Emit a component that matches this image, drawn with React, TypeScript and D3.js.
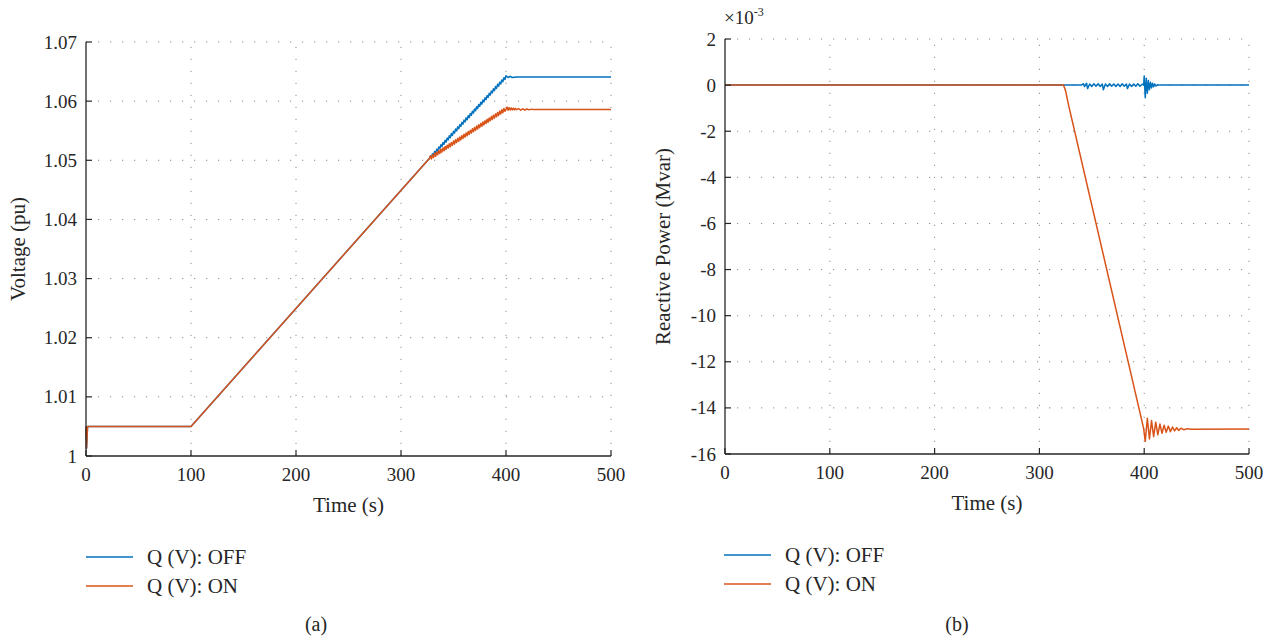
import React from 'react';
import * as d3 from 'd3';

// ---------- data ----------
const TIME_TICKS = [0, 100, 200, 300, 400, 500];
const V_TICKS = [1, 1.01, 1.02, 1.03, 1.04, 1.05, 1.06, 1.07];
const V_TICK_LABELS = ['1', '1.01', '1.02', '1.03', '1.04', '1.05', '1.06', '1.07'];
const Q_TICKS = [-16, -14, -12, -10, -8, -6, -4, -2, 0, 2];
const Q_TICK_LABELS = ['-16', '-14', '-12', '-10', '-8', '-6', '-4', '-2', '0', '2'];
const SERIES_NAMES = ['Q (V): OFF', 'Q (V): ON'];

// Voltage (pu), Q(V) OFF : times and values
const V_OFF_T = [0, 0.5, 1.5, 100, 327,
  328, 329, 330, 331, 332, 333, 334, 335, 336, 337, 338, 339, 340, 341, 342, 343, 344, 345, 346, 347,
  348, 349, 350, 351, 352, 353, 354, 355, 356, 357, 358, 359, 360, 361, 362, 363, 364, 365, 366, 367,
  368, 369, 370, 371, 372, 373, 374, 375, 376, 377, 378, 379, 380, 381, 382, 383, 384, 385, 386, 387,
  388, 389, 390, 391, 392, 393, 394, 395, 396, 397, 398, 399,
  400, 402, 404, 406, 410, 500];
const V_OFF = [1.005, 1.0013, 1.005, 1.005, 1.0503,
  1.05074, 1.05043, 1.05112, 1.05081, 1.05150, 1.05118, 1.05187, 1.05156, 1.05225, 1.05194, 1.05263, 1.05232, 1.05301, 1.05270, 1.05339, 1.05307, 1.05376, 1.05345, 1.05414, 1.05383,
  1.05452, 1.05421, 1.05490, 1.05459, 1.05528, 1.05496, 1.05565, 1.05534, 1.05603, 1.05572, 1.05641, 1.05610, 1.05679, 1.05648, 1.05717, 1.05685, 1.05754, 1.05723, 1.05792, 1.05761,
  1.05830, 1.05799, 1.05868, 1.05837, 1.05906, 1.05874, 1.05943, 1.05912, 1.05981, 1.05950, 1.06019, 1.05988, 1.06057, 1.06026, 1.06095, 1.06063, 1.06132, 1.06101, 1.06170, 1.06139,
  1.06208, 1.06177, 1.06246, 1.06215, 1.06284, 1.06252, 1.06321, 1.06290, 1.06359, 1.06328, 1.06397, 1.06366,
  1.0643, 1.0640, 1.0642, 1.0640, 1.0641, 1.0641];

// Voltage (pu), Q(V) ON
const V_ON_T = [0, 0.5, 1.5, 100, 327,
  328, 329, 330, 331, 332, 333, 334, 335, 336, 337, 338, 339, 340, 341, 342, 343, 344, 345, 346, 347,
  348, 349, 350, 351, 352, 353, 354, 355, 356, 357, 358, 359, 360, 361, 362, 363, 364, 365, 366, 367,
  368, 369, 370, 371, 372, 373, 374, 375, 376, 377, 378, 379, 380, 381, 382, 383, 384, 385, 386, 387,
  388, 389, 390, 391, 392, 393, 394, 395, 396, 397, 398, 399,
  401, 402, 403, 404, 405, 406, 407, 408, 409, 410, 412, 414, 416, 418, 420, 422, 424, 426, 430, 500];
const V_ON = [1.005, 1.0013, 1.005, 1.005, 1.0503,
  1.05072, 1.05023, 1.05095, 1.05046, 1.05118, 1.05069, 1.05141, 1.05092, 1.05164, 1.05115, 1.05187, 1.05138, 1.05210, 1.05161, 1.05233, 1.05184, 1.05256, 1.05207, 1.05279, 1.05230,
  1.05302, 1.05253, 1.05325, 1.05276, 1.05348, 1.05299, 1.05371, 1.05322, 1.05394, 1.05345, 1.05417, 1.05368, 1.05440, 1.05391, 1.05463, 1.05414, 1.05486, 1.05437, 1.05509, 1.05460,
  1.05532, 1.05483, 1.05555, 1.05506, 1.05578, 1.05529, 1.05601, 1.05552, 1.05624, 1.05575, 1.05647, 1.05598, 1.05670, 1.05621, 1.05693, 1.05644, 1.05716, 1.05667, 1.05739, 1.05690,
  1.05762, 1.05713, 1.05785, 1.05736, 1.05808, 1.05759, 1.05831, 1.05782, 1.05854, 1.05805, 1.05877, 1.05828,
  1.0590, 1.05845, 1.0589, 1.0585, 1.05885, 1.05852, 1.0588, 1.05853, 1.05877, 1.05855, 1.05875, 1.05848, 1.0587, 1.0585, 1.05868, 1.05853, 1.05865, 1.05857, 1.0586, 1.0586];

// Reactive power (x1e-3 Mvar), Q(V) OFF
const Q_OFF_T = [0, 340, 342, 343, 345, 346, 348, 350, 352, 354, 356, 358, 360, 361, 363, 365, 367, 369, 371,
  373, 375, 377, 379, 381, 383, 384, 386, 388, 390, 392, 394, 396, 398, 399.5,
  400, 401, 402, 403, 404, 405, 406, 407, 408, 409, 410, 411, 413, 415, 500];
const Q_OFF = [0, 0, 0.06, -0.06, 0.08, -0.15, 0.05, -0.06, 0.06, -0.05, 0.06, -0.06, 0.05, -0.2, 0.05, -0.06, 0.06, -0.05, 0.05,
  -0.06, 0.05, -0.06, 0.06, -0.05, 0.05, -0.15, 0.05, -0.06, 0.05, -0.05, 0.06, -0.05, 0.04, 0,
  0.4, -0.55, 0.3, -0.35, 0.2, -0.2, 0.12, -0.12, 0.08, -0.07, 0.05, -0.04, 0.02, 0, 0];

// Reactive power (x1e-3 Mvar), Q(V) ON
const Q_ON_T = [0, 323, 325, 328, 399.5, 401, 403, 405, 407, 409, 411, 413, 415, 417, 419, 421, 423, 425, 427,
  429, 431, 433, 435, 438, 441, 445, 500];
const Q_ON = [0, 0, -0.25, -0.9, -14.9, -15.45, -14.45, -15.35, -14.55, -15.25, -14.62, -15.17, -14.7, -15.1, -14.75, -15.06, -14.79, -15.03, -14.83,
  -15.0, -14.86, -14.98, -14.88, -14.95, -14.9, -14.93, -14.92];

// ---------- styles ----------
const BLUE = '#0072BD';
const ORANGE = '#D95319';
const FONT = '"Liberation Serif", "DejaVu Serif", serif';
const TXT = '#262626';

type PanelProps = {
  x0: number; x1: number; y0: number; y1: number;
  yDomain: [number, number];
  yTicks: number[]; yLabels: string[];
  yTitle: string; yTitleX: number;
  offT: number[]; off: number[]; onT: number[]; on: number[];
  legendX: number; legendY: number;
  caption: string; captionX: number;
  exponent?: boolean;
};

function Panel(p: PanelProps) {
  const x = d3.scaleLinear().domain([0, 500]).range([p.x0, p.x1]);
  const y = d3.scaleLinear().domain(p.yDomain).range([p.y1, p.y0]);
  const line = d3.line<[number, number]>().x(d => x(d[0])).y(d => y(d[1]));
  const offPts = p.offT.map((t, i) => [t, p.off[i]] as [number, number]);
  const onPts = p.onT.map((t, i) => [t, p.on[i]] as [number, number]);
  const cx = (p.x0 + p.x1) / 2;
  const cy = (p.y0 + p.y1) / 2;
  return (
    <g fontFamily={FONT} fill={TXT}>
      {/* grid */}
      {TIME_TICKS.filter(t => t > 0).map(t => (
        <line key={'gx' + t} x1={x(t)} x2={x(t)} y1={p.y1} y2={p.y0}
          stroke="#8a8a8a" strokeWidth={1} strokeDasharray="1.2 10.8" />
      ))}
      {p.yTicks.slice(1).map(v => (
        <line key={'gy' + v} x1={p.x0} x2={p.x1} y1={y(v)} y2={y(v)}
          stroke="#8a8a8a" strokeWidth={1} strokeDasharray="1.2 10.8" />
      ))}
      {/* series */}
      <path d={line(offPts) || ''} fill="none" stroke={BLUE} strokeWidth={1.5} strokeLinejoin="round" />
      <path d={line(onPts) || ''} fill="none" stroke={ORANGE} strokeWidth={1.5} strokeLinejoin="round" />
      {/* axes */}
      <line x1={p.x0} x2={p.x1} y1={p.y1} y2={p.y1} stroke={TXT} strokeWidth={1.3} />
      <line x1={p.x0} x2={p.x0} y1={p.y1} y2={p.y0} stroke={TXT} strokeWidth={1.3} />
      {TIME_TICKS.map(t => (
        <g key={'tx' + t}>
          <line x1={x(t)} x2={x(t)} y1={p.y1} y2={p.y1 - 6} stroke={TXT} strokeWidth={1.2} />
          <text x={x(t)} y={p.y1 + 25} textAnchor="middle" fontSize={19}>{t}</text>
        </g>
      ))}
      {p.yTicks.map((v, i) => (
        <g key={'ty' + v}>
          <line x1={p.x0} x2={p.x0 + 6} y1={y(v)} y2={y(v)} stroke={TXT} strokeWidth={1.2} />
          <text x={p.x0 - 9} y={y(v) + 6.5} textAnchor="end" fontSize={19}>{p.yLabels[i]}</text>
        </g>
      ))}
      {p.exponent && (
        <text x={p.x0 - 1} y={p.y0 - 15} fontSize={19}>
          ×10<tspan fontSize={12} dy={-8}>-3</tspan>
        </text>
      )}
      <text x={cx} y={p.y1 + 56} textAnchor="middle" fontSize={21}>Time (s)</text>
      <text transform={`translate(${p.yTitleX},${cy}) rotate(-90)`} textAnchor="middle" fontSize={21}>{p.yTitle}</text>
      {/* legend */}
      {[BLUE, ORANGE].map((c, i) => (
        <g key={'lg' + i}>
          <line x1={p.legendX} x2={p.legendX + 47} y1={p.legendY + i * 29} y2={p.legendY + i * 29} stroke={c} strokeWidth={1.5} />
          <text x={p.legendX + 61} y={p.legendY + i * 29 + 7} fontSize={21}>{SERIES_NAMES[i]}</text>
        </g>
      ))}
      <text x={p.captionX} y={631} textAnchor="middle" fontSize={20}>{p.caption}</text>
    </g>
  );
}

export default function App() {
  return (
    <svg width={1272} height={640} style={{ position: 'absolute', left: 0, top: 0, background: '#fff' }}>
      <rect width={1272} height={640} fill="#fff" />
      <Panel x0={86} x1={611} y0={42} y1={456} yDomain={[1, 1.07]}
        yTicks={V_TICKS} yLabels={V_TICK_LABELS} yTitle="Voltage (pu)" yTitleX={25}
        offT={V_OFF_T} off={V_OFF} onT={V_ON_T} on={V_ON}
        legendX={86} legendY={557} caption="(a)" captionX={316} />
      <Panel x0={725} x1={1249} y0={39} y1={454} yDomain={[-16, 2]}
        yTicks={Q_TICKS} yLabels={Q_TICK_LABELS} yTitle="Reactive Power (Mvar)" yTitleX={670}
        offT={Q_OFF_T} off={Q_OFF} onT={Q_ON_T} on={Q_ON}
        legendX={724} legendY={555} caption="(b)" captionX={957} exponent />
    </svg>
  );
}
